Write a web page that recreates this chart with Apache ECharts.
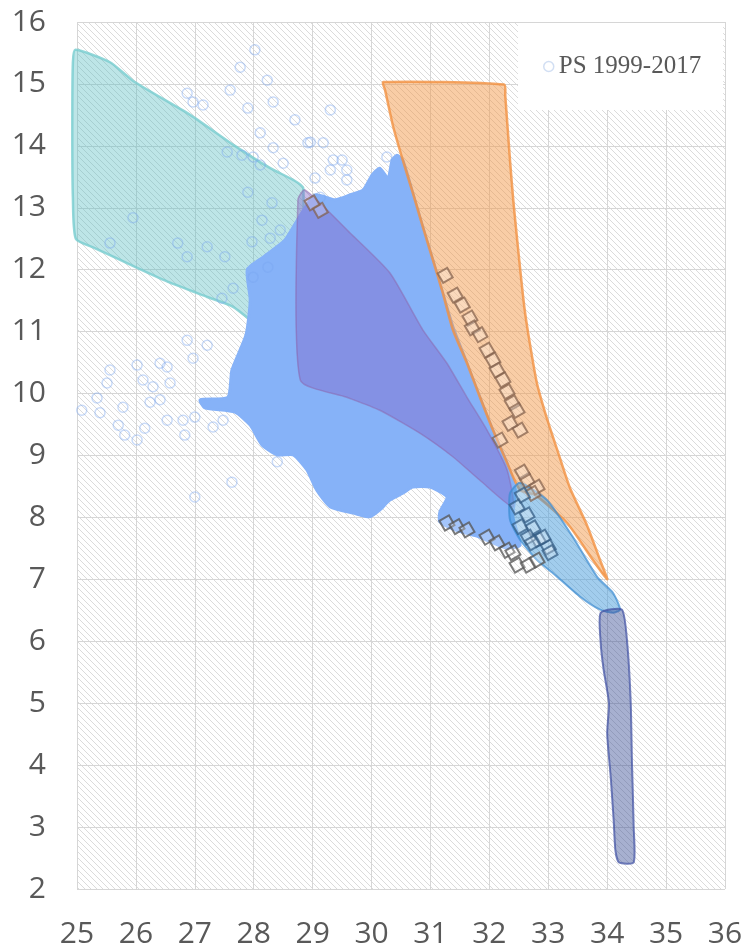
<!DOCTYPE html>
<html><head><meta charset="utf-8">
<script src="https://cdn.jsdelivr.net/npm/echarts@6/dist/echarts.min.js"></script>
<style>html,body{margin:0;padding:0;background:#fff}#c{width:748px;height:949px}</style>
</head><body><div id="c"></div>
<script>
// ---- axis ticks ----
const xTicks = [25,26,27,28,29,30,31,32,33,34,35,36];
const yTicks = [2,3,4,5,6,7,8,9,10,11,12,13,14,15,16];
const legendName = 'PS 1999-2017';

// ---- hand-drawn envelope polygons [x, y] ----
const tealZone = [[24.97,15.55],[25.56,15.35],[25.98,15.03],[26.92,14.5],[27.68,14.0],[28.28,13.64],[28.67,13.45],[28.84,13.32],[28.82,12.0],[28.79,10.72],[28.2,11.0],[27.65,11.40],[27.21,11.56],[26.58,11.79],[26.02,12.03],[25.3,12.35],[24.98,12.50],[24.93,13.17],[24.92,14.26],[24.93,15.34]];
const psCloud = [[30.43,13.85],[30.53,13.77],[30.70,13.24],[30.87,12.69],[31.04,12.16],[31.21,11.62],[31.38,11.08],[31.62,10.49],[31.84,9.94],[32.06,9.41],[32.30,8.88],[32.44,8.44],[32.40,8.01],[32.52,7.55],[32.27,7.51],[31.84,7.68],[31.42,7.80],[31.16,7.93],[31.16,8.09],[31.28,8.33],[30.99,8.49],[30.70,8.49],[30.53,8.39],[30.31,8.28],[30.14,8.12],[29.97,8.01],[29.69,8.07],[29.30,8.17],[29.07,8.44],[28.90,8.77],[28.67,9.01],[28.40,9.01],[28.14,9.17],[27.94,9.49],[27.68,9.70],[27.17,9.77],[27.09,9.90],[27.56,9.94],[27.63,10.38],[27.87,10.95],[27.94,11.51],[27.89,12.0],[28.14,12.19],[28.53,12.48],[28.79,12.88],[29.04,13.21],[29.38,13.13],[29.64,13.21],[29.86,13.29],[30.01,13.53],[30.14,13.64],[30.28,13.48],[30.35,13.77]];
const purpleZone = [[28.87,13.29],[29.64,12.59],[30.31,11.95],[30.87,11.03],[31.28,10.49],[31.62,9.94],[31.96,9.41],[32.30,8.77],[32.40,8.17],[31.84,8.60],[31.38,8.98],[30.82,9.36],[30.14,9.73],[29.58,9.94],[28.79,10.22],[28.75,13.13]];
const orangeZone = [[30.20,15.03],[32.25,14.99],[32.27,14.81],[32.35,13.77],[32.41,13.08],[32.60,11.35],[32.80,10.20],[32.97,9.62],[33.17,9.04],[33.37,8.47],[33.65,7.89],[33.88,7.31],[34.0,7.0],[33.76,7.31],[33.32,7.91],[32.78,8.36],[32.52,8.44],[32.30,8.88],[32.06,9.41],[31.84,9.94],[31.62,10.49],[31.38,11.03],[31.21,11.62],[31.04,12.16],[30.87,12.69],[30.70,13.24],[30.53,13.77],[30.37,14.30],[30.23,14.9]];
const blueBand = [[32.35,8.39],[32.52,8.56],[32.98,8.28],[33.42,7.68],[33.83,7.04],[34.10,6.78],[34.22,6.51],[34.10,6.46],[33.88,6.51],[33.54,6.72],[33.08,7.10],[32.81,7.31],[32.52,7.64],[32.35,7.96]];
const darkBand = [[33.89,6.46],[34.25,6.51],[34.34,5.97],[34.40,5.0],[34.42,4.08],[34.45,3.0],[34.45,2.43],[34.20,2.43],[34.14,2.62],[34.11,3.11],[34.06,3.81],[34.0,4.51],[34.03,5.0],[33.94,5.54],[33.89,5.97]];

// ---- PS 1999-2017 scattered points ----
const psX = [28.02,27.77,28.23,26.87,27.60,26.97,27.14,28.33,27.90,28.70,28.11,28.92,28.33,27.55,27.80,27.99,28.11,28.50,27.90,28.31,25.95,28.14,25.56,26.71,27.21,26.87,27.51,27.97,28.28,28.45,27.46,27.65,27.99,28.24,29.30,28.96,29.18,29.35,29.50,29.30,29.58,29.04,29.58,30.26,29.13,26.87,27.21,25.56,26.02,26.41,26.53,26.97,26.12,25.51,26.29,26.58,25.78,26.24,26.41,25.39,26.53,27.00,26.80,25.70,26.15,25.81,26.02,26.83,27.31,27.48,27.63,27.00,28.40,25.08,25.34];
const psY = [15.55,15.27,15.06,14.85,14.90,14.71,14.66,14.71,14.61,14.42,14.21,14.05,13.97,13.90,13.85,13.82,13.69,13.72,13.25,13.08,12.84,12.80,12.43,12.43,12.37,12.21,12.21,12.45,12.51,12.64,11.54,11.70,11.88,12.04,14.58,14.06,14.05,13.77,13.77,13.61,13.61,13.48,13.45,13.82,13.17,10.86,10.78,10.38,10.46,10.49,10.43,10.57,10.22,10.17,10.11,10.17,9.78,9.86,9.90,9.69,9.57,9.62,9.57,9.49,9.44,9.33,9.25,9.33,9.46,9.57,8.57,8.33,8.90,9.73,9.93];

// ---- diamond marker groups ----
const brownX = [29.13,28.99,31.25,31.42,31.54,31.67,31.71,31.84,31.96,32.06,32.13,32.23,32.30,32.39,32.47,32.52,32.35,32.18,32.64,32.81,32.74,32.56];
const brownY = [12.96,13.08,11.91,11.59,11.43,11.22,11.06,10.95,10.70,10.54,10.38,10.22,10.03,9.85,9.73,9.41,9.52,9.25,8.60,8.49,8.39,8.73];
const grayX = [31.28,31.45,31.62,31.96,32.13,32.30,32.40,32.47,32.66,32.81];
const grayY = [7.91,7.85,7.80,7.68,7.59,7.47,7.43,7.23,7.23,7.31];
const steelX = [32.47,32.64,32.74,32.83,33.00,33.03,32.66,32.73,32.52,32.91,32.56];
const steelY = [8.17,8.04,7.83,7.64,7.52,7.43,7.68,7.59,7.85,7.68,8.36];

const zip = (a,b) => a.map((v,i)=>[v,b[i]]);

// hatch pattern
const pc = document.createElement('canvas');
pc.width = 6; pc.height = 6;
const g = pc.getContext('2d');
g.fillStyle = '#ffffff'; g.fillRect(0,0,6,6);
g.strokeStyle = 'rgba(160,160,160,0.38)'; g.lineWidth = 1;
g.beginPath();
g.moveTo(-1,-1); g.lineTo(7,7);
g.moveTo(-1,5); g.lineTo(1,7);
g.moveTo(5,-1); g.lineTo(7,1);
g.stroke();

function polySeries(name, pts, fill, stroke, lw, z){
  return {
    type:'custom', name:name, z:z, silent:true,
    data: pts,
    encode:{x:0,y:1},
    renderItem:function(params, api){
      if(params.dataIndex!==0) return;
      const p = pts.map(q=>api.coord(q));
      return {type:'polygon', shape:{points:p, smooth:0.2},
        style:{fill:fill, stroke:stroke, lineWidth:lw, lineJoin:'round'}};
    }
  };
}
function diamonds(name, xs, ys, color, z){
  return {type:'scatter', name:name, z:z, silent:true, symbol:'rect', symbolSize:11, symbolRotate:30,
    data: zip(xs,ys),
    itemStyle:{color:'rgba(255,255,255,0.3)', borderColor:color, borderWidth:2, opacity:0.85}};
}

const chart = echarts.init(document.getElementById('c'));
const axisFont = {fontFamily:'Open Sans', fontSize:30, color:'#595959'};
chart.setOption({
  animation:false,
  backgroundColor:'#ffffff',
  grid:{left:77, right:23, top:22, bottom:60, show:true, borderWidth:0,
        backgroundColor:{image:pc, repeat:'repeat'}},
  xAxis:{type:'value', min:xTicks[0], max:xTicks[xTicks.length-1], interval:1,
    axisLine:{show:false}, axisTick:{show:false},
    splitLine:{show:true, lineStyle:{color:'#d6d6d6', width:1}},
    axisLabel:Object.assign({margin:30}, axisFont)},
  yAxis:{type:'value', min:yTicks[0], max:yTicks[yTicks.length-1], interval:1,
    axisLine:{show:false}, axisTick:{show:false},
    splitLine:{show:true, lineStyle:{color:'#d6d6d6', width:1}},
    axisLabel:Object.assign({margin:31}, axisFont)},
  legend:{data:[legendName], left:518, top:23, orient:'vertical',
    backgroundColor:'#ffffff', padding:[31,22,31,25],
    itemWidth:10, itemHeight:10, itemGap:6, icon:'circle',
    itemStyle:{color:'rgba(255,255,255,0)', borderColor:'#c7d7f0', borderWidth:1.5},
    textStyle:{fontFamily:'Liberation Serif', fontSize:25, color:'#595959'}},
  series:[
    polySeries('teal', tealZone, 'rgba(90,190,195,0.4)', 'rgba(120,205,208,0.8)', 2.5, 2),
    polySeries('cloud', psCloud, 'rgba(134,178,248,1)', 'rgba(134,178,248,1)', 3, 3),
    {type:'scatter', name:legendName, z:4, silent:true, symbol:'circle', symbolSize:10,
      data: zip(psX, psY),
      itemStyle:{color:'rgba(255,255,255,0)', borderColor:'rgba(120,165,240,0.5)', borderWidth:1.5}},
    polySeries('purple', purpleZone, 'rgba(130,100,200,0.42)', 'rgba(140,100,170,0.5)', 1.5, 5),
    polySeries('orange', orangeZone, 'rgba(242,150,70,0.48)', 'rgba(242,145,65,0.8)', 2.5, 6),
    polySeries('band', blueBand, 'rgba(70,155,220,0.5)', 'rgba(60,140,210,0.7)', 2, 7),
    polySeries('dark', darkBand, 'rgba(60,80,150,0.45)', 'rgba(70,85,165,0.75)', 2, 8),
    diamonds('d1', brownX, brownY, 'rgba(130,95,75,0.85)', 9),
    diamonds('d2', grayX, grayY, 'rgba(85,85,85,0.9)', 9),
    diamonds('d3', steelX, steelY, 'rgba(50,90,130,0.85)', 9)
  ]
});
</script></body></html>
